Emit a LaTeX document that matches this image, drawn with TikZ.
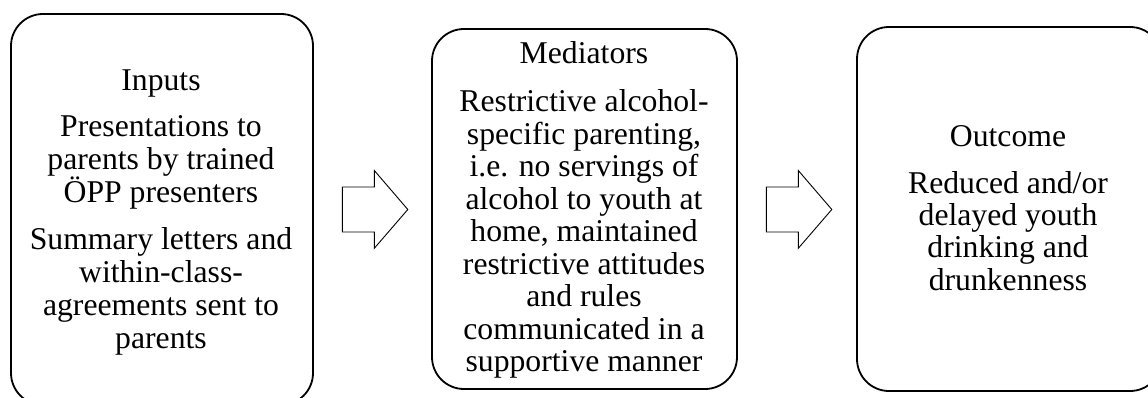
\documentclass[tikz,border=0pt]{standalone}
\usepackage{fontspec}
\setmainfont{Liberation Serif}
\usetikzlibrary{calc}
\begin{document}
\begin{tikzpicture}[x=1pt,y=-1pt,
  box/.style={draw=black, line width=1.8pt, rounded corners=32pt, rectangle, inner sep=0pt},
  txt/.style={align=center, inner sep=0pt, anchor=base},
  blockarrow/.style={draw=black, line width=0.9pt, fill=white, line join=miter}]
\useasboundingbox (0,0) rectangle (1148,398);
% boxes
\node[box, minimum width=302pt, minimum height=391pt] (b1) at (162,209.5) {};
\node[box, minimum width=305pt, minimum height=360pt] (b2) at (584.5,209) {};
\node[box, minimum width=305pt, minimum height=364pt] (b3) at (1009.5,209) {};
% texts (anchored at the baseline of the last line)
\node[txt, font=\fontsize{31.7}{33}\selectfont] (t1) at (161,348) {Inputs\\[12.5pt]Presentations to\\parents by trained\\ÖPP presenters\\[14pt]Summary letters and\\within-class-\\agreements sent to\\parents};
\node[txt, font=\fontsize{31.7}{32.5}\selectfont] (t2) at (584,371.6) {Mediators\\[16pt]Restrictive alcohol-\\specific parenting,\\i.e. no servings of\\alcohol to youth at\\home, maintained\\restrictive attitudes\\and rules\\communicated in a\\supportive manner};
\node[txt, font=\fontsize{31.7}{32.3}\selectfont] (t3) at (1008,290) {Outcome\\[14pt]Reduced and/or\\delayed youth\\drinking and\\drunkenness};
% block arrows
\coordinate (a1) at (342.3,209.5);
\coordinate (a2) at (766.3,209.5);
\foreach \a in {a1,a2}{
  \draw[blockarrow] ($(\a)+(0,-22.5)$) -- ++(32,0) -- ++(0,-16.5) -- ($(\a)+(65.5,0)$)
    -- ($(\a)+(32,38.8)$) -- ++(0,-16.3) -- ($(\a)+(0,22.5)$) -- cycle;
}
\end{tikzpicture}
\end{document}
